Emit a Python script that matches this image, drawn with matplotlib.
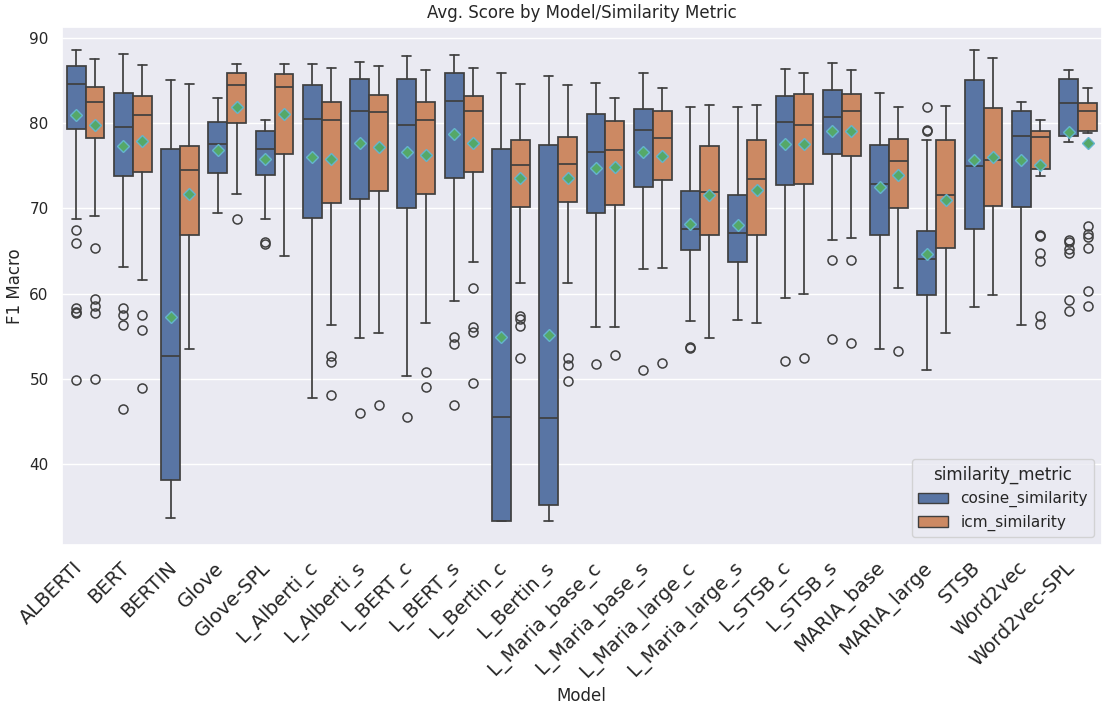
import matplotlib
matplotlib.use("Agg")
import matplotlib.pyplot as plt
from matplotlib.patches import Patch
import seaborn as sns

models = ["ALBERTI", "BERT", "BERTIN", "Glove", "Glove-SPL", "L_Alberti_c", "L_Alberti_s",
          "L_BERT_c", "L_BERT_s", "L_Bertin_c", "L_Bertin_s", "L_Maria_base_c",
          "L_Maria_base_s", "L_Maria_large_c", "L_Maria_large_s", "L_STSB_c", "L_STSB_s",
          "MARIA_base", "MARIA_large", "STSB", "Word2vec", "Word2vec-SPL"]
metrics = ["cosine_similarity", "icm_similarity"]

# cosine_similarity summary stats per model
cos_lo = [68.8, 63.1, 33.7, 69.5, 68.8, 47.8, 54.8, 50.3, 59.1, 33.4, 33.3, 56.1,
          62.9, 56.8, 56.9, 59.5, 66.3, 53.5, 51.0, 58.4, 56.3, 77.8]
cos_q1 = [79.3, 73.8, 38.2, 74.1, 73.9, 68.9, 71.1, 70.0, 73.5, 33.4, 35.2, 69.4,
          72.5, 65.1, 63.7, 72.7, 76.4, 66.9, 59.8, 67.6, 70.1, 78.5]
cos_med = [84.6, 79.5, 52.7, 77.5, 77.0, 80.5, 81.4, 79.8, 82.6, 45.6, 45.4, 76.6,
           79.2, 67.6, 67.1, 80.1, 80.7, 72.9, 64.0, 74.9, 78.5, 82.3]
cos_q3 = [86.7, 83.5, 77.0, 80.1, 79.1, 84.4, 85.1, 85.1, 85.9, 76.9, 77.4, 81.0,
          81.6, 72.0, 71.5, 83.2, 83.9, 77.4, 67.3, 85.0, 81.4, 85.2]
cos_hi = [88.5, 88.1, 85.0, 82.9, 80.3, 86.9, 87.1, 87.8, 88.0, 85.8, 85.5, 84.7,
          85.8, 81.9, 81.9, 86.3, 87.0, 83.5, 78.0, 88.5, 82.4, 86.2]
cos_mean = [80.9, 77.3, 57.3, 76.8, 75.8, 76.0, 77.7, 76.6, 78.7, 54.9, 55.2, 74.7,
            76.6, 68.2, 68.0, 77.5, 79.1, 72.5, 64.6, 75.6, 75.7, 78.9]
cos_fliers = [[67.4, 65.9, 58.3, 57.9, 57.7, 49.9], [58.3, 57.5, 56.3, 46.5], [], [],
              [66.0, 65.8], [], [46.0], [45.6], [54.9, 54.1, 46.9], [], [], [51.7],
              [51.1], [53.8, 53.6], [], [52.1], [63.9, 54.7], [], [81.9, 79.2, 79.0],
              [], [], [66.3, 66.0, 65.2, 64.8, 59.3, 58.0]]

# icm_similarity summary stats per model
icm_lo = [69.1, 61.6, 53.5, 71.7, 64.4, 56.3, 55.4, 56.6, 63.7, 61.3, 61.3, 56.1,
          63.0, 54.8, 56.5, 60.0, 66.5, 60.7, 55.4, 59.8, 73.8, 78.8]
icm_q1 = [78.2, 74.2, 66.9, 80.0, 76.4, 70.6, 72.0, 71.7, 74.3, 70.2, 70.7, 70.4,
          73.3, 66.9, 66.9, 72.8, 76.1, 70.0, 65.3, 70.3, 74.6, 79.0]
icm_med = [82.4, 80.9, 74.5, 84.4, 84.2, 80.4, 81.3, 80.4, 81.4, 75.1, 75.2, 76.8,
           78.2, 71.9, 73.4, 79.7, 81.4, 75.5, 71.5, 75.6, 78.4, 81.4]
icm_q3 = [84.2, 83.2, 77.3, 85.9, 85.7, 82.4, 83.3, 82.5, 83.1, 78.0, 78.3, 80.2,
          81.4, 77.3, 78.0, 83.4, 83.4, 78.1, 78.0, 81.8, 79.1, 82.3]
icm_hi = [87.5, 86.8, 84.6, 86.9, 86.9, 86.4, 86.7, 86.2, 86.4, 84.6, 84.4, 82.9,
          84.1, 82.1, 82.1, 85.8, 86.2, 81.9, 82.0, 87.6, 80.3, 84.1]
icm_mean = [79.8, 77.9, 71.7, 81.9, 81.1, 75.8, 77.2, 76.2, 77.7, 73.5, 73.6, 74.8,
            76.1, 71.5, 72.1, 77.5, 79.0, 73.9, 71.0, 76.0, 75.1, 77.7]
icm_fliers = [[65.3, 59.4, 58.5, 57.7, 50.0], [57.5, 55.7, 48.9], [], [68.8], [],
              [52.7, 52.0, 48.1], [46.9], [50.8, 49.0], [60.7, 56.1, 55.5, 49.5],
              [57.4, 57.0, 56.2, 52.4], [52.4, 51.6, 49.8], [52.8], [51.9], [], [],
              [52.5], [63.9, 54.2], [53.3], [], [],
              [66.9, 66.7, 64.8, 63.8, 57.4, 56.4],
              [67.9, 67.0, 66.6, 65.3, 60.3, 58.6]]

sns.set_theme(style="darkgrid")
colors = ["#5975a4", "#cc8963"]
line_c = "#3f3f3f"

fig = plt.figure(figsize=(11.05, 7.06), dpi=100)
ax = fig.add_axes([0.056, 0.228, 0.941, 0.734])

series = [
    (cos_lo, cos_q1, cos_med, cos_q3, cos_hi, cos_mean, cos_fliers),
    (icm_lo, icm_q1, icm_med, icm_q3, icm_hi, icm_mean, icm_fliers),
]
for k, (lo, q1, med, q3, hi, mean, fl) in enumerate(series):
    stats = []
    for i in range(len(models)):
        stats.append(dict(whislo=lo[i], q1=q1[i], med=med[i], q3=q3[i], whishi=hi[i],
                          mean=mean[i], fliers=fl[i]))
    pos = [i - 0.2 + 0.4 * k for i in range(len(models))]
    ax.bxp(stats, positions=pos, widths=0.4, capwidths=0.19, patch_artist=True,
           showmeans=True, manage_ticks=False,
           boxprops=dict(facecolor=colors[k], edgecolor=line_c, linewidth=1.25),
           medianprops=dict(color=line_c, linewidth=1.25),
           whiskerprops=dict(color=line_c, linewidth=1.25),
           capprops=dict(color=line_c, linewidth=1.25),
           flierprops=dict(marker="o", markerfacecolor="none", markeredgecolor=line_c,
                           markersize=6.5, markeredgewidth=1.1),
           meanprops=dict(marker="D", markerfacecolor="#55a868", markeredgecolor="#64b5cd",
                          markersize=6.5, markeredgewidth=1.0))

ax.set_xlim(-0.5, len(models) - 0.5)
ax.set_xticks(range(len(models)))
ax.set_xticklabels(models, rotation=45, ha="right", fontsize=14)
ax.xaxis.grid(False)
ax.set_xlabel("Model")
ax.set_ylabel("F1 Macro")
ax.set_title("Avg. Score by Model/Similarity Metric")

handles = [Patch(facecolor=colors[k], edgecolor=line_c, label=metrics[k]) for k in range(2)]
ax.legend(handles=handles, title="similarity_metric", loc="lower right")

fig.savefig("out.png", dpi=100)
